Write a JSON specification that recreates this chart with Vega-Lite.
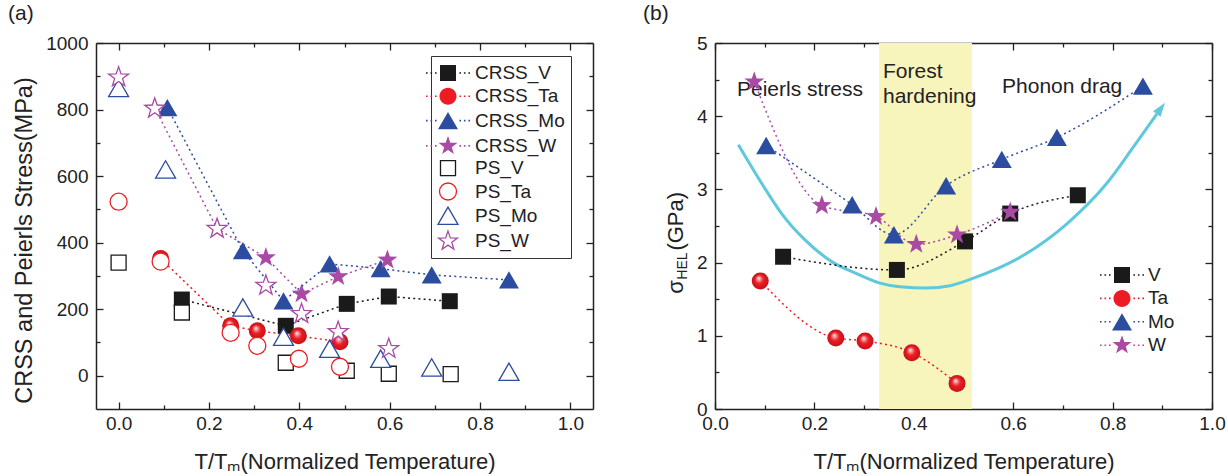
{
"$schema":"https://vega.github.io/schema/vega-lite/v6.json",
"background":"white",
"padding":{"left":8,"top":3,"right":5,"bottom":5},
"config":{
  "font":"Liberation Sans",
  "view":{"stroke":null},
  "axis":{"grid":false,"domainColor":"#222","domainWidth":1.5,"tickColor":"#222","tickWidth":1.3,"tickSize":-7,"labelFontSize":19,"labelColor":"#222","labelPadding":15,"labelFlush":false,"labelOverlap":false,"titleFontSize":22,"titleFontWeight":"normal","titleColor":"#222","zindex":1},
  "title":{"fontWeight":"normal","fontSize":21,"color":"#222"}
},
"datasets":{
"a":[
{"s":"CRSS_V","x":0.14,"y":229},{"s":"CRSS_V","x":0.37,"y":150},{"s":"CRSS_V","x":0.505,"y":216},{"s":"CRSS_V","x":0.598,"y":238},{"s":"CRSS_V","x":0.733,"y":224},
{"s":"CRSS_Ta","x":0.093,"y":352},{"s":"CRSS_Ta","x":0.248,"y":150},{"s":"CRSS_Ta","x":0.307,"y":135},{"s":"CRSS_Ta","x":0.398,"y":120},{"s":"CRSS_Ta","x":0.49,"y":102},
{"s":"CRSS_Mo","x":0.108,"y":806},{"s":"CRSS_Mo","x":0.275,"y":376},{"s":"CRSS_Mo","x":0.365,"y":225},{"s":"CRSS_Mo","x":0.467,"y":336},{"s":"CRSS_Mo","x":0.58,"y":322},{"s":"CRSS_Mo","x":0.693,"y":303},{"s":"CRSS_Mo","x":0.864,"y":288},
{"s":"CRSS_W","x":0.08,"y":805},{"s":"CRSS_W","x":0.218,"y":442},{"s":"CRSS_W","x":0.326,"y":355},{"s":"CRSS_W","x":0.405,"y":246},{"s":"CRSS_W","x":0.486,"y":298},{"s":"CRSS_W","x":0.595,"y":348},
{"s":"PS_V","x":0.0,"y":340},{"s":"PS_V","x":0.14,"y":190},{"s":"PS_V","x":0.37,"y":39},{"s":"PS_V","x":0.505,"y":15},{"s":"PS_V","x":0.598,"y":6},{"s":"PS_V","x":0.735,"y":5},
{"s":"PS_Ta","x":0.0,"y":523},{"s":"PS_Ta","x":0.093,"y":343},{"s":"PS_Ta","x":0.248,"y":129},{"s":"PS_Ta","x":0.307,"y":90},{"s":"PS_Ta","x":0.399,"y":51},{"s":"PS_Ta","x":0.49,"y":27},
{"s":"PS_Mo","x":0.0,"y":865},{"s":"PS_Mo","x":0.104,"y":620},{"s":"PS_Mo","x":0.275,"y":205},{"s":"PS_Mo","x":0.365,"y":117},{"s":"PS_Mo","x":0.467,"y":81},{"s":"PS_Mo","x":0.58,"y":51},{"s":"PS_Mo","x":0.693,"y":25},{"s":"PS_Mo","x":0.864,"y":12},
{"s":"PS_W","x":0.0,"y":897},{"s":"PS_W","x":0.08,"y":803},{"s":"PS_W","x":0.218,"y":442},{"s":"PS_W","x":0.326,"y":271},{"s":"PS_W","x":0.405,"y":186},{"s":"PS_W","x":0.486,"y":132},{"s":"PS_W","x":0.598,"y":81}
],
"b":[
{"s":"V","x":0.137,"y":2.08},{"s":"V","x":0.366,"y":1.9},{"s":"V","x":0.503,"y":2.29},{"s":"V","x":0.594,"y":2.67},{"s":"V","x":0.73,"y":2.92},
{"s":"Ta","x":0.091,"y":1.75},{"s":"Ta","x":0.243,"y":0.97},{"s":"Ta","x":0.302,"y":0.93},{"s":"Ta","x":0.396,"y":0.77},{"s":"Ta","x":0.487,"y":0.35},
{"s":"Mo","x":0.103,"y":3.6},{"s":"Mo","x":0.276,"y":2.79},{"s":"Mo","x":0.36,"y":2.38},{"s":"Mo","x":0.465,"y":3.05},{"s":"Mo","x":0.577,"y":3.41},{"s":"Mo","x":0.688,"y":3.71},{"s":"Mo","x":0.861,"y":4.41},
{"s":"W","x":0.079,"y":4.47},{"s":"W","x":0.215,"y":2.78},{"s":"W","x":0.324,"y":2.63},{"s":"W","x":0.405,"y":2.25},{"s":"W","x":0.487,"y":2.38},{"s":"W","x":0.594,"y":2.69}
],
"curve":[
{"x":0.047,"y":3.61},{"x":0.097,"y":3.05},{"x":0.134,"y":2.67},{"x":0.181,"y":2.31},{"x":0.238,"y":2.0},{"x":0.285,"y":1.85},{"x":0.332,"y":1.72},{"x":0.372,"y":1.67},{"x":0.426,"y":1.653},{"x":0.473,"y":1.685},{"x":0.516,"y":1.777},{"x":0.62,"y":2.096},{"x":0.708,"y":2.53},{"x":0.788,"y":3.08},{"x":0.842,"y":3.58},{"x":0.889,"y":4.03}
]
},
"spacing":49,
"resolve":{"scale":{"shape":"independent","fill":"independent","stroke":"independent","color":"independent"},"legend":{"shape":"independent","fill":"independent","stroke":"independent","color":"independent"}},
"hconcat":[
{
 "width":497,"height":366,
 "title":{"text":"(a)","anchor":"start","frame":"group","dx":-88,"offset":10},
 "data":{"name":"a"},
 "resolve":{"axis":{"x":"independent","y":"independent"}},
 "layer":[
  {"transform":[{"filter":"indexof(datum.s,'CRSS')===0"}],
   "mark":{"type":"line","strokeDash":[2,3.2],"strokeWidth":1.5},
   "encoding":{
    "x":{"field":"x","type":"quantitative","scale":{"domain":[-0.05,1.05],"nice":false,"zero":false},"axis":{"orient":"bottom","values":[0,0.2,0.4,0.6,0.8,1],"format":".1f","labelPadding":12,"title":"T/Tₘ(Normalized Temperature)","titlePadding":18}},
    "y":{"field":"y","type":"quantitative","scale":{"domain":[-100,1000],"nice":false,"zero":false},"axis":{"orient":"left","values":[0,200,400,600,800,1000],"format":"d","title":"CRSS and Peierls Stress(MPa)","titlePadding":9,"titleFontSize":23.5,"titleY":197}},
    "color":{"field":"s","type":"nominal","scale":{"domain":["CRSS_V","CRSS_Ta","CRSS_Mo","CRSS_W"],"range":["#1a1a1a","#ed1c24","#2c4c9f","#a94aa5"]},"legend":null}
   }},
  {"transform":[{"filter":"datum.s==='CRSS_V'"}],
   "mark":{"type":"point","shape":"M-0.762,-0.762H0.762V0.762H-0.762Z","size":441,"filled":true,"opacity":1,"fill":"#1a1a1a","strokeWidth":0},
   "encoding":{
    "x":{"field":"x","type":"quantitative","axis":{"orient":"top","values":[0,0.2,0.4,0.6,0.8,1],"labels":false,"title":null}},
    "y":{"field":"y","type":"quantitative","axis":{"orient":"right","values":[0,200,400,600,800,1000],"labels":false,"title":null}}
   }},
  {"transform":[{"filter":"datum.s==='CRSS_Ta'"}],
   "mark":{"type":"point","shape":"circle","size":289,"filled":true,"opacity":1,"strokeWidth":0,"fill":{"gradient":"radial","x1":0.4,"y1":0.33,"r1":0,"x2":0.5,"y2":0.5,"r2":0.5,"stops":[{"offset":0,"color":"#ffffff"},{"offset":0.2,"color":"#f59a9c"},{"offset":0.5,"color":"#ee1c24"},{"offset":1,"color":"#c3121a"}]}},
   "encoding":{
    "x":{"field":"x","type":"quantitative","axis":{"orient":"bottom","values":[0.1,0.3,0.5,0.7,0.9],"labels":false,"title":null,"tickSize":-4,"domain":false}},
    "y":{"field":"y","type":"quantitative","axis":{"orient":"left","values":[100,300,500,700,900],"labels":false,"title":null,"tickSize":-4,"domain":false}}
   }},
  {"transform":[{"filter":"datum.s==='CRSS_Mo'"}],
   "mark":{"type":"point","shape":"M0,-0.825L0.952,0.825L-0.952,0.825Z","size":441,"filled":true,"opacity":1,"fill":"#2c4c9f","strokeWidth":0},
   "encoding":{
    "x":{"field":"x","type":"quantitative","axis":{"orient":"top","values":[0.1,0.3,0.5,0.7,0.9],"labels":false,"title":null,"tickSize":-4,"domain":false}},
    "y":{"field":"y","type":"quantitative","axis":{"orient":"right","values":[100,300,500,700,900],"labels":false,"title":null,"tickSize":-4,"domain":false}}
   }},
  {"transform":[{"filter":"datum.s==='CRSS_W'"}],
   "mark":{"type":"point","shape":"M0,-1L0.235,-0.324L0.951,-0.309L0.38,0.124L0.588,0.809L0,0.4L-0.588,0.809L-0.38,0.124L-0.951,-0.309L-0.235,-0.324Z","size":441,"filled":true,"opacity":1,"fill":"#a94aa5","strokeWidth":0},
   "encoding":{"x":{"field":"x","type":"quantitative","axis":null},"y":{"field":"y","type":"quantitative","axis":null}}},
  {"transform":[{"filter":"datum.s==='PS_V'"}],
   "mark":{"type":"point","shape":"M-0.714,-0.714H0.714V0.714H-0.714Z","size":441,"filled":true,"opacity":1,"fill":"#ffffff","stroke":"#1a1a1a","strokeWidth":1.3},
   "encoding":{"x":{"field":"x","type":"quantitative","axis":null},"y":{"field":"y","type":"quantitative","axis":null}}},
  {"transform":[{"filter":"datum.s==='PS_Ta'"}],
   "mark":{"type":"point","shape":"M0.81,0A0.81,0.81,0,1,1,-0.81,0A0.81,0.81,0,1,1,0.81,0Z","size":441,"filled":true,"opacity":1,"fill":"#ffffff","stroke":"#ed1c24","strokeWidth":1.3},
   "encoding":{"x":{"field":"x","type":"quantitative","axis":null},"y":{"field":"y","type":"quantitative","axis":null}}},
  {"transform":[{"filter":"datum.s==='PS_Mo'"}],
   "mark":{"type":"point","shape":"M0,-0.825L0.952,0.825L-0.952,0.825Z","size":441,"filled":true,"opacity":1,"fill":"#ffffff","stroke":"#2c4c9f","strokeWidth":1.3},
   "encoding":{"x":{"field":"x","type":"quantitative","axis":null},"y":{"field":"y","type":"quantitative","axis":null}}},
  {"transform":[{"filter":"datum.s==='PS_W'"}],
   "mark":{"type":"point","shape":"M0,-1L0.235,-0.324L0.951,-0.309L0.38,0.124L0.588,0.809L0,0.4L-0.588,0.809L-0.38,0.124L-0.951,-0.309L-0.235,-0.324Z","size":441,"filled":true,"opacity":1,"fill":"#ffffff","stroke":"#a94aa5","strokeWidth":1.3},
   "encoding":{"x":{"field":"x","type":"quantitative","axis":null},"y":{"field":"y","type":"quantitative","axis":null}}},
  {"transform":[{"filter":"false"}],
   "mark":{"type":"point","filled":true,"opacity":1,"size":400},
   "encoding":{
    "x":{"field":"x","type":"quantitative","axis":null},
    "y":{"field":"y","type":"quantitative","axis":null},
    "shape":{"field":"s","type":"nominal","scale":{"domain":["CRSS_V","CRSS_Ta","CRSS_Mo","CRSS_W","PS_V","PS_Ta","PS_Mo","PS_W"],"range":[
      "M-2.2,-0.08h0.16v0.16h-0.16ZM-1.75,-0.08h0.16v0.16h-0.16ZM-1.3,-0.08h0.16v0.16h-0.16ZM1.14,-0.08h0.16v0.16h-0.16ZM1.59,-0.08h0.16v0.16h-0.16ZM2.04,-0.08h0.16v0.16h-0.16ZM-0.8,-0.8H0.8V0.8H-0.8Z",
      "M-2.2,-0.08h0.16v0.16h-0.16ZM-1.75,-0.08h0.16v0.16h-0.16ZM-1.3,-0.08h0.16v0.16h-0.16ZM1.14,-0.08h0.16v0.16h-0.16ZM1.59,-0.08h0.16v0.16h-0.16ZM2.04,-0.08h0.16v0.16h-0.16ZM0.85,0A0.85,0.85,0,1,1,-0.85,0A0.85,0.85,0,1,1,0.85,0Z",
      "M-2.2,-0.08h0.16v0.16h-0.16ZM-1.75,-0.08h0.16v0.16h-0.16ZM-1.3,-0.08h0.16v0.16h-0.16ZM1.14,-0.08h0.16v0.16h-0.16ZM1.59,-0.08h0.16v0.16h-0.16ZM2.04,-0.08h0.16v0.16h-0.16ZM0,-0.866L1,0.866L-1,0.866Z",
      "M-2.2,-0.08h0.16v0.16h-0.16ZM-1.75,-0.08h0.16v0.16h-0.16ZM-1.3,-0.08h0.16v0.16h-0.16ZM1.14,-0.08h0.16v0.16h-0.16ZM1.59,-0.08h0.16v0.16h-0.16ZM2.04,-0.08h0.16v0.16h-0.16ZM0,-1L0.235,-0.324L0.951,-0.309L0.38,0.124L0.588,0.809L0,0.4L-0.588,0.809L-0.38,0.124L-0.951,-0.309L-0.235,-0.324Z",
      "M-0.75,-0.75H0.75V0.75H-0.75Z",
      "M0.85,0A0.85,0.85,0,1,1,-0.85,0A0.85,0.85,0,1,1,0.85,0Z",
      "M0,-0.866L1,0.866L-1,0.866Z",
      "M0,-1L0.235,-0.324L0.951,-0.309L0.38,0.124L0.588,0.809L0,0.4L-0.588,0.809L-0.38,0.124L-0.951,-0.309L-0.235,-0.324Z"]},
     "legend":{"title":null,"orient":"none","legendX":335,"legendY":13,"padding":6,"strokeColor":"#333","fillColor":"#ffffff","labelFontSize":19,"labelColor":"#222","labelOffset":16,"symbolSize":400,"symbolStrokeWidth":1.3,"rowPadding":0.3,"labelLimit":300}},
    "fill":{"field":"s","type":"nominal","scale":{"domain":["CRSS_V","CRSS_Ta","CRSS_Mo","CRSS_W","PS_V","PS_Ta","PS_Mo","PS_W"],"range":["#1a1a1a","#ed1c24","#2c4c9f","#a94aa5","#ffffff","#ffffff","#ffffff","#ffffff"]}},
    "stroke":{"field":"s","type":"nominal","scale":{"domain":["CRSS_V","CRSS_Ta","CRSS_Mo","CRSS_W","PS_V","PS_Ta","PS_Mo","PS_W"],"range":["transparent","transparent","transparent","transparent","#1a1a1a","#ed1c24","#2c4c9f","#a94aa5"]}}
   }}
 ]
},
{
 "width":497,"height":366,
 "title":{"text":"(b)","anchor":"start","frame":"group","dx":-72,"offset":10},
 "resolve":{"axis":{"x":"independent","y":"independent"}},
 "layer":[
  {"data":{"values":[{"x":0.33,"x2":0.517}]},
   "mark":{"type":"rect","color":"#f8f5bc"},
   "encoding":{
    "x":{"field":"x","type":"quantitative","scale":{"domain":[0,1],"nice":false,"zero":false},"axis":{"orient":"bottom","values":[0,0.2,0.4,0.6,0.8,1],"format":".1f","labelPadding":12,"title":"T/Tₘ(Normalized Temperature)","titlePadding":18}},
    "x2":{"field":"x2"}
   }},
  {"data":{"name":"curve"},
   "mark":{"type":"line","color":"#5ec8dc","strokeWidth":3,"interpolate":"monotone"},
   "encoding":{
    "x":{"field":"x","type":"quantitative","axis":{"orient":"top","values":[0,0.2,0.4,0.6,0.8,1],"labels":false,"title":null}},
    "y":{"field":"y","type":"quantitative","scale":{"domain":[0,5],"nice":false,"zero":false},"axis":{"orient":"left","values":[0,1,2,3,4,5],"format":"d","title":null}}
   }},
  {"data":{"name":"b"},
   "mark":{"type":"line","strokeDash":[2,3.2],"strokeWidth":1.5,"interpolate":"monotone"},
   "encoding":{
    "x":{"field":"x","type":"quantitative","axis":{"orient":"bottom","values":[0.1,0.3,0.5,0.7,0.9],"labels":false,"title":null,"tickSize":-4,"domain":false}},
    "y":{"field":"y","type":"quantitative","axis":{"orient":"right","values":[0,1,2,3,4,5],"labels":false,"title":null}},
    "color":{"field":"s","type":"nominal","scale":{"domain":["Mo","V","Ta","W"],"range":["#2c4c9f","#1a1a1a","#ed1c24","#a94aa5"]},"legend":null}
   }},
  {"data":{"values":[{}]},"mark":{"type":"text","text":"Peierls stress","align":"left","baseline":"alphabetic","fontSize":21,"color":"#222"},
   "encoding":{"x":{"datum":0.0443,"type":"quantitative","axis":null},"y":{"datum":4.278,"type":"quantitative","axis":null}}},
  {"data":{"values":[{}]},"mark":{"type":"text","text":"Forest","align":"left","baseline":"alphabetic","fontSize":21,"color":"#222"},
   "encoding":{"x":{"datum":0.338,"type":"quantitative","axis":null},"y":{"datum":4.52,"type":"quantitative","axis":null}}},
  {"data":{"values":[{}]},"mark":{"type":"text","text":"hardening","align":"left","baseline":"alphabetic","fontSize":21,"color":"#222"},
   "encoding":{"x":{"datum":0.338,"type":"quantitative","axis":null},"y":{"datum":4.178,"type":"quantitative","axis":null}}},
  {"data":{"values":[{}]},"mark":{"type":"text","text":"Phonon drag","align":"left","baseline":"alphabetic","fontSize":21,"color":"#222"},
   "encoding":{"x":{"datum":0.5775,"type":"quantitative","axis":null},"y":{"datum":4.315,"type":"quantitative","axis":null}}},
  {"data":{"name":"b"},"transform":[{"filter":"datum.s==='V'"}],
   "mark":{"type":"point","shape":"M-0.762,-0.762H0.762V0.762H-0.762Z","size":441,"filled":true,"opacity":1,"fill":"#1a1a1a","strokeWidth":0},
   "encoding":{
    "x":{"field":"x","type":"quantitative","axis":{"orient":"top","values":[0.1,0.3,0.5,0.7,0.9],"labels":false,"title":null,"tickSize":-4,"domain":false}},
    "y":{"field":"y","type":"quantitative","axis":{"orient":"left","values":[0.5,1.5,2.5,3.5,4.5],"labels":false,"title":null,"tickSize":-4,"domain":false}}
   }},
  {"data":{"name":"b"},"transform":[{"filter":"datum.s==='Ta'"}],
   "mark":{"type":"point","shape":"circle","size":289,"filled":true,"opacity":1,"strokeWidth":0,"fill":{"gradient":"radial","x1":0.4,"y1":0.33,"r1":0,"x2":0.5,"y2":0.5,"r2":0.5,"stops":[{"offset":0,"color":"#ffffff"},{"offset":0.2,"color":"#f59a9c"},{"offset":0.5,"color":"#ee1c24"},{"offset":1,"color":"#c3121a"}]}},
   "encoding":{
    "x":{"field":"x","type":"quantitative","axis":null},
    "y":{"field":"y","type":"quantitative","axis":{"orient":"right","values":[0.5,1.5,2.5,3.5,4.5],"labels":false,"title":null,"tickSize":-4,"domain":false}}
   }},
  {"data":{"name":"b"},"transform":[{"filter":"datum.s==='Mo'"}],
   "mark":{"type":"point","shape":"M0,-0.825L0.952,0.825L-0.952,0.825Z","size":441,"filled":true,"opacity":1,"fill":"#2c4c9f","strokeWidth":0},
   "encoding":{"x":{"field":"x","type":"quantitative","axis":null},"y":{"field":"y","type":"quantitative","axis":null}}},
  {"data":{"name":"b"},"transform":[{"filter":"datum.s==='W'"}],
   "mark":{"type":"point","shape":"M0,-1L0.235,-0.324L0.951,-0.309L0.38,0.124L0.588,0.809L0,0.4L-0.588,0.809L-0.38,0.124L-0.951,-0.309L-0.235,-0.324Z","size":441,"filled":true,"opacity":1,"fill":"#a94aa5","strokeWidth":0},
   "encoding":{"x":{"field":"x","type":"quantitative","axis":null},"y":{"field":"y","type":"quantitative","axis":null}}},
  {"data":{"values":[{}]},
   "mark":{"type":"point","shape":"M0,-1L0.65,1L-0.65,1Z","size":196,"angle":36,"filled":true,"opacity":1,"fill":"#5ec8dc","strokeWidth":0},
   "encoding":{"x":{"datum":0.8972,"type":"quantitative","axis":null},"y":{"datum":4.108,"type":"quantitative","axis":null}}},
  {"data":{"values":[{}]},"mark":{"type":"text","text":"σ","angle":270,"align":"left","baseline":"alphabetic","fontSize":22,"color":"#222"},
   "encoding":{"x":{"datum":-0.0644,"type":"quantitative","axis":null},"y":{"datum":1.575,"type":"quantitative","axis":null}}},
  {"data":{"values":[{}]},"mark":{"type":"text","text":"HEL","angle":270,"align":"left","baseline":"alphabetic","fontSize":14,"color":"#222"},
   "encoding":{"x":{"datum":-0.0563,"type":"quantitative","axis":null},"y":{"datum":1.767,"type":"quantitative","axis":null}}},
  {"data":{"values":[{}]},"mark":{"type":"text","text":"(GPa)","angle":270,"align":"left","baseline":"alphabetic","fontSize":22,"color":"#222"},
   "encoding":{"x":{"datum":-0.0644,"type":"quantitative","axis":null},"y":{"datum":2.164,"type":"quantitative","axis":null}}},
  {"data":{"name":"b"},"transform":[{"filter":"false"}],
   "mark":{"type":"point","filled":true,"opacity":1,"size":400,"strokeWidth":0},
   "encoding":{
    "x":{"field":"x","type":"quantitative","axis":null},
    "y":{"field":"y","type":"quantitative","axis":null},
    "shape":{"field":"s","type":"nominal","scale":{"domain":["V","Ta","Mo","W"],"range":[
      "M-2.2,-0.08h0.16v0.16h-0.16ZM-1.75,-0.08h0.16v0.16h-0.16ZM-1.3,-0.08h0.16v0.16h-0.16ZM1.14,-0.08h0.16v0.16h-0.16ZM1.59,-0.08h0.16v0.16h-0.16ZM2.04,-0.08h0.16v0.16h-0.16ZM-0.8,-0.8H0.8V0.8H-0.8Z",
      "M-2.2,-0.08h0.16v0.16h-0.16ZM-1.75,-0.08h0.16v0.16h-0.16ZM-1.3,-0.08h0.16v0.16h-0.16ZM1.14,-0.08h0.16v0.16h-0.16ZM1.59,-0.08h0.16v0.16h-0.16ZM2.04,-0.08h0.16v0.16h-0.16ZM0.85,0A0.85,0.85,0,1,1,-0.85,0A0.85,0.85,0,1,1,0.85,0Z",
      "M-2.2,-0.08h0.16v0.16h-0.16ZM-1.75,-0.08h0.16v0.16h-0.16ZM-1.3,-0.08h0.16v0.16h-0.16ZM1.14,-0.08h0.16v0.16h-0.16ZM1.59,-0.08h0.16v0.16h-0.16ZM2.04,-0.08h0.16v0.16h-0.16ZM0,-0.866L1,0.866L-1,0.866Z",
      "M-2.2,-0.08h0.16v0.16h-0.16ZM-1.75,-0.08h0.16v0.16h-0.16ZM-1.3,-0.08h0.16v0.16h-0.16ZM1.14,-0.08h0.16v0.16h-0.16ZM1.59,-0.08h0.16v0.16h-0.16ZM2.04,-0.08h0.16v0.16h-0.16ZM0,-1L0.235,-0.324L0.951,-0.309L0.38,0.124L0.588,0.809L0,0.4L-0.588,0.809L-0.38,0.124L-0.951,-0.309L-0.235,-0.324Z"]},
     "legend":{"title":null,"orient":"none","legendX":397,"legendY":222,"padding":0,"labelFontSize":19,"labelColor":"#222","labelOffset":16,"symbolSize":400,"symbolStrokeWidth":0,"rowPadding":3.4}},
    "fill":{"field":"s","type":"nominal","scale":{"domain":["V","Ta","Mo","W"],"range":["#1a1a1a","#ed1c24","#2c4c9f","#a94aa5"]}}
   }}
 ]
}
]
}
